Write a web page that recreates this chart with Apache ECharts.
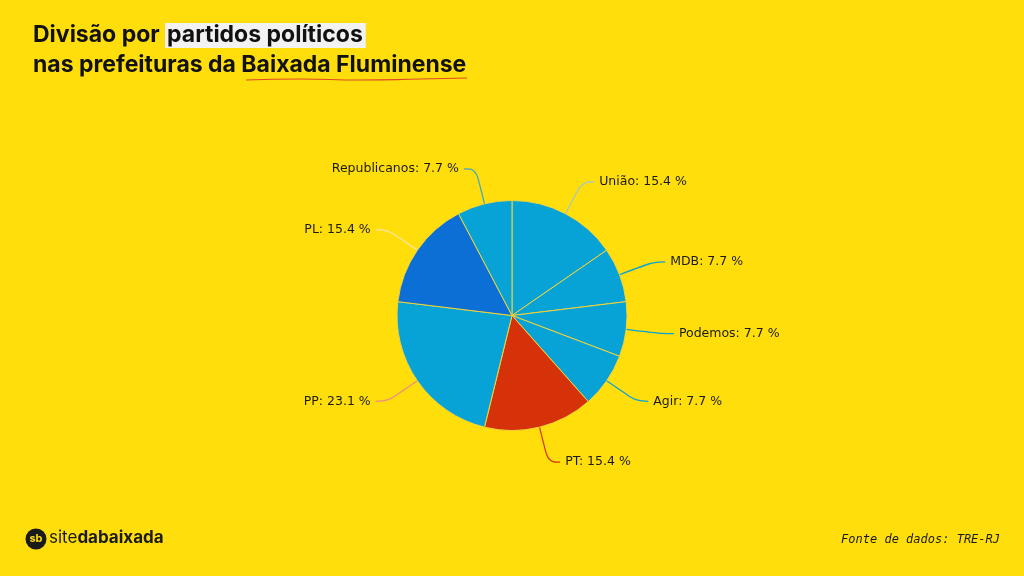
<!DOCTYPE html>
<html><head><meta charset="utf-8">
<script src="https://cdn.jsdelivr.net/npm/echarts@6/dist/echarts.min.js"></script>
<style>html,body{margin:0;padding:0;background:#FFDE0B;}#c{width:1024px;height:576px;}</style>
</head><body><div id="c"></div>
<script>
const categories = ['União','MDB','Podemos','Agir','PT','PP','PL','Republicanos'];
const values = [2,1,1,1,2,3,2,1];
const sliceColors = ['#08A3D6','#08A3D6','#08A3D6','#08A3D6','#D6320A','#08A3D6','#0C6FD6','#08A3D6'];
const lineColors = ['#9DC6D6','#08A3D6','#08A3D6','#08A3D6','#D6320A','#F08A8A','#F5E7A8','#3FA6C8'];

const total = values.reduce((a, b) => a + b, 0);
const chart = echarts.init(document.getElementById('c'));
const titleFont = 'Inter, "Noto Sans", sans-serif';
chart.setOption({
  backgroundColor: '#FFDE0B',
  series: [{
    type: 'pie',
    center: [512, 315.5],
    radius: [0, 115],
    startAngle: 90,
    clockwise: true,
    avoidLabelOverlap: true,
    itemStyle: { borderColor: '#F2D33A', borderWidth: 1 },
    label: {
      formatter: p => p.name + ': ' + (p.value / total * 100).toFixed(1) + ' %',
      color: '#1a1a1a',
      fontFamily: '"DejaVu Sans", Verdana, sans-serif',
      fontSize: 12.5
    },
    labelLine: { length: 36, length2: 12, smooth: 0.4, lineStyle: { width: 1.2 } },
    emphasis: { disabled: true },
    data: categories.map((c, i) => ({
      name: c, value: values[i],
      itemStyle: { color: sliceColors[i] },
      labelLine: { lineStyle: { color: lineColors[i] } }
    }))
  }],
  graphic: [
    { type: 'text', left: 33, top: 23, style: {
        rich: {
          a: { fontFamily: titleFont, fontWeight: 700, fontSize: 23, fill: '#111' },
          h: { fontFamily: titleFont, fontWeight: 700, fontSize: 23, fill: '#111', backgroundColor: '#F2F2F2', padding: [1, 3, 1, 2] }
        },
        text: '{a|Divisão por }{h|partidos políticos}'
    }},
    { type: 'text', left: 33, top: 54, style: {
        text: 'nas prefeituras da Baixada Fluminense',
        font: '700 23px ' + titleFont, fill: '#111'
    }},
    { type: 'polyline', shape: { points: [[246,80],[300,79],[360,80],[420,79],[467,78]], smooth: 0.5 },
      style: { stroke: '#E2482A', lineWidth: 1.2, fill: null } },
    { type: 'circle', shape: { cx: 36, cy: 539, r: 10.5 }, style: { fill: '#1a1a1a' } },
    { type: 'text', x: 36, y: 539, style: { text: 'sb', font: '700 11px ' + titleFont, fill: '#FFDE0B', align: 'center', verticalAlign: 'middle' } },
    { type: 'text', left: 49, top: 529, style: {
        rich: {
          s: { fontFamily: titleFont, fontWeight: 400, fontSize: 17, fill: '#1a1a1a' },
          b: { fontFamily: titleFont, fontWeight: 700, fontSize: 17, fill: '#1a1a1a' }
        },
        text: '{s|site}{b|dabaixada}'
    }},
    { type: 'text', right: 24, top: 534, style: {
        text: 'Fonte de dados: TRE-RJ',
        font: 'italic 12px "DejaVu Sans Mono", monospace', fill: '#1a1a1a'
    }}
  ]
});
</script></body></html>
